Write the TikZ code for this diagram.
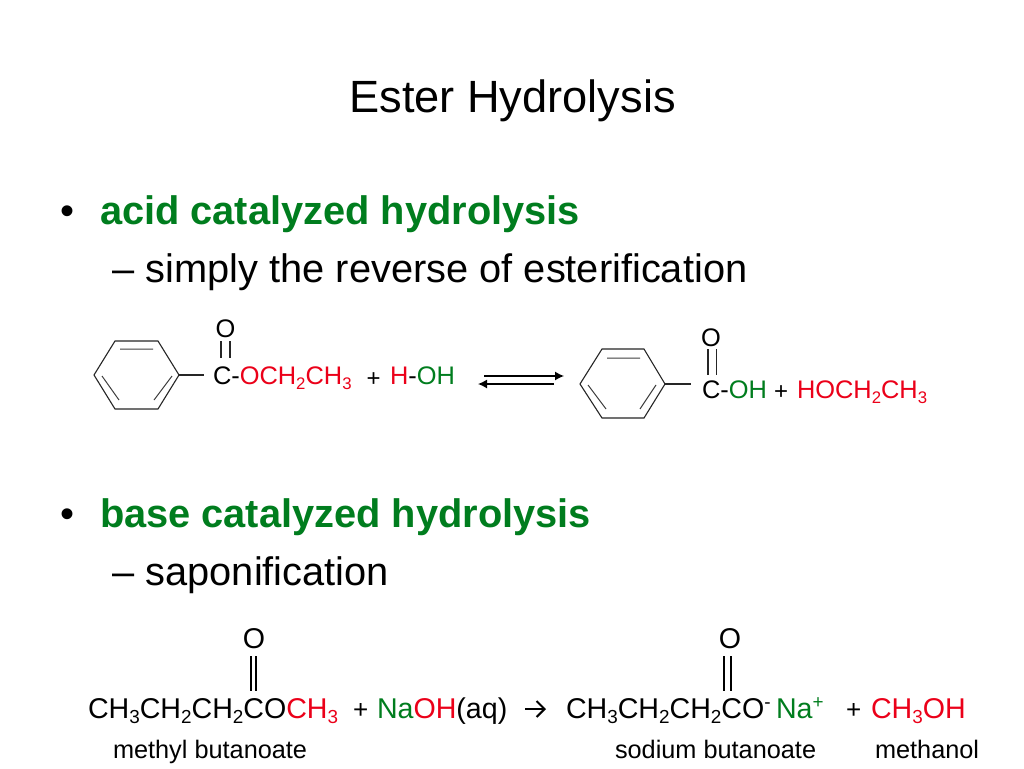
\documentclass[tikz,border=0pt]{standalone}
\usepackage{fontspec}
\setmainfont{Liberation Sans}
\definecolor{grn}{RGB}{0,125,30}
\definecolor{rd}{RGB}{235,0,25}
\newcommand{\fsz}[1]{\fontsize{#1}{#1}\selectfont}
\newcommand{\sbs}[1]{\raisebox{-0.2em}{\scalebox{0.66}{#1}}}
\newcommand{\sps}[1]{\raisebox{0.33em}{\scalebox{0.66}{#1}}}
\usetikzlibrary{arrows.meta}
\tikzset{
  txt/.style={anchor=base west,inner sep=0pt,outer sep=0pt,text=black},
  ctr/.style={anchor=base,inner sep=0pt,outer sep=0pt,text=black},
  bond/.style={draw=black!85,line width=1.1pt},
  inner bond/.style={draw=black!75,line width=1pt},
  heavy bond/.style={draw=black,line width=1.3pt},
  eqarrow/.style={draw=black,line width=1.3pt,-{Latex[length=9pt,width=9pt]}},
  openarrow/.style={draw=black,line width=2pt,-{Straight Barb[length=8pt,width=16pt]}}
}
\begin{document}
\begin{tikzpicture}[x=1pt,y=-1pt]
\useasboundingbox (0,0) rectangle (1024,768);
\fill[white] (0,0) rectangle (1024,768);
% headings
\node[ctr,font=\fsz{45.2}] (title) at (512.5,112) {Ester Hydrolysis};
\node[txt,font=\fsz{40}] (b1) at (60,224) {•};
\node[txt,font=\fsz{39.8}\bfseries,text=grn] (h1) at (100,224) {acid catalyzed hydrolysis};
\node[txt,font=\fsz{39.8}] (s1) at (112.5,282) {– simply the reverse of esterification};
\node[txt,font=\fsz{40}] (b2) at (60,527) {•};
\node[txt,font=\fsz{39.8}\bfseries,text=grn] (h2) at (100,527) {base catalyzed hydrolysis};
\node[txt,font=\fsz{39.8}] (s2) at (112.5,585) {– saponification};
% first ring
\coordinate (a1) at (94,375); \coordinate (a2) at (115,341); \coordinate (a3) at (158,341);
\coordinate (a4) at (179,375); \coordinate (a5) at (158,409); \coordinate (a6) at (115,409);
\draw[bond] (a1)--(a2)--(a3)--(a4)--(a5)--(a6)--cycle;
\coordinate (ai1) at (120,349); \coordinate (ai2) at (153,349);
\coordinate (ai3) at (172,376); \coordinate (ai4) at (154,400);
\coordinate (ai5) at (102,376); \coordinate (ai6) at (119,400);
\draw[inner bond] (ai1)--(ai2) (ai3)--(ai4) (ai5)--(ai6);
\coordinate (ab) at (204,375);
\draw[bond] (a4)--(ab);
\node[ctr,font=\fsz{25.4}] (o1) at (225.5,337) {O};
\draw[bond] ([xshift=-4.5pt,yshift=-4pt]o1.south) -- ++(0,17);
\draw[bond] ([xshift=4.5pt,yshift=-4pt]o1.south) -- ++(0,17);
\node[txt,font=\fsz{25.4}] (f1) at (213,384) {C-\textcolor{rd}{OCH\sbs{2}CH\sbs{3}}};
\node[txt,font=\fsz{24}] (p1) at (366.5,386) {+};
\node[txt,font=\fsz{25.4}] (w1) at (390,384) {\textcolor{rd}{H}-\textcolor{grn}{OH}};
% equilibrium arrows
\coordinate (e1) at (484,376); \coordinate (e2) at (564,376);
\coordinate (e3) at (554,384); \coordinate (e4) at (478,384);
\draw[eqarrow] (e1)--(e2);
\draw[eqarrow] (e3)--(e4);
% second ring
\coordinate (c1) at (580,384); \coordinate (c2) at (602,349); \coordinate (c3) at (644,349);
\coordinate (c4) at (665,384); \coordinate (c5) at (644,418); \coordinate (c6) at (602,418);
\draw[bond] (c1)--(c2)--(c3)--(c4)--(c5)--(c6)--cycle;
\coordinate (ci1) at (607,358); \coordinate (ci2) at (640,358);
\coordinate (ci3) at (656,385); \coordinate (ci4) at (640,409);
\coordinate (ci5) at (588,385); \coordinate (ci6) at (606,409);
\draw[inner bond] (ci1)--(ci2) (ci3)--(ci4) (ci5)--(ci6);
\coordinate (cb) at (691,384);
\draw[bond] (c4)--(cb);
\node[ctr,font=\fsz{25.4}] (o2) at (711,346) {O};
\draw[bond] ([xshift=-3pt,yshift=-3pt]o2.south) -- ++(0,26);
\draw[bond] ([xshift=5.5pt,yshift=-3pt]o2.south) -- ++(0,26);
\node[txt,font=\fsz{25.4}] (f2) at (702,398) {C-\textcolor{grn}{OH}};
\node[txt,font=\fsz{24}] (p2) at (774,399) {+};
\node[txt,font=\fsz{25.4},text=rd] (f3) at (797,398) {HOCH\sbs{2}CH\sbs{3}};
% saponification
\node[ctr,font=\fsz{28.6}] (o3) at (254,648) {O};
\draw[heavy bond] ([xshift=-3pt,yshift=-8pt]o3.south) -- ++(0,35);
\draw[heavy bond] ([xshift=2pt,yshift=-8pt]o3.south) -- ++(0,35);
\node[txt,font=\fsz{28.6}] (f4) at (88,718) {CH\sbs{3}CH\sbs{2}CH\sbs{2}CO\textcolor{rd}{CH\sbs{3}}};
\node[txt,font=\fsz{26}] (p3) at (353,718) {+};
\node[txt,font=\fsz{28.6}] (f5) at (377,718) {\textcolor{grn}{Na}\textcolor{rd}{OH}(aq)};
\coordinate (r1) at (525,709); \coordinate (r2) at (546,709);
\draw[openarrow] (r1)--(r2);
\node[ctr,font=\fsz{28.6}] (o4) at (730,648) {O};
\draw[heavy bond] ([xshift=-6pt,yshift=-8pt]o4.south) -- ++(0,35);
\draw[heavy bond] ([xshift=1pt,yshift=-8pt]o4.south) -- ++(0,35);
\node[txt,font=\fsz{28.6}] (f6) at (566,718) {CH\sbs{3}CH\sbs{2}CH\sbs{2}CO\sps{-}};
\node[txt,font=\fsz{28.6},text=grn] (f7) at (776,718) {Na\sps{+}};
\node[txt,font=\fsz{26}] (p4) at (846,718) {+};
\node[txt,font=\fsz{28.6},text=rd] (f8) at (871,718) {CH\sbs{3}OH};
\node[txt,font=\fsz{25.3}] (n1) at (113,758) {methyl butanoate};
\node[txt,font=\fsz{25.3}] (n2) at (615,758) {sodium butanoate};
\node[txt,font=\fsz{25.3}] (n3) at (875,758) {methanol};
\end{tikzpicture}
\end{document}
